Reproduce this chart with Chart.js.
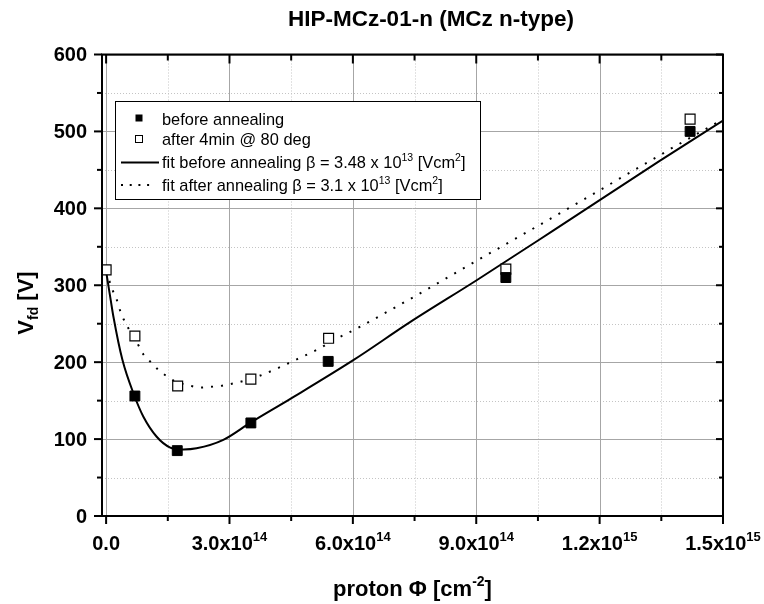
<!DOCTYPE html>
<html><head><meta charset="utf-8">
<script src="https://cdn.jsdelivr.net/npm/chart.js@4.4.0/dist/chart.umd.min.js"></script>
<style>html,body{margin:0;padding:0;background:#fff}canvas{display:block}</style>
</head><body>
<canvas id="c" width="764" height="604"></canvas>
<script>
// ---------- data ----------
const titleText = "HIP-MCz-01-n (MCz n-type)";
const phiBefore = [7e13, 1.73e14, 3.52e14, 5.40e14, 9.72e14, 1.42e15];
const vBefore   = [156, 85, 121, 201, 310, 500];
const phiAfter  = [0, 7e13, 1.74e14, 3.52e14, 5.41e14, 9.72e14, 1.42e15];
const vAfter    = [320, 234, 169, 178, 231, 321, 516];
const phiFitBefore = [0, 1.14e13, 1.78e13, 3.96e13, 6.9e13, 9.07e13, 1.23e14, 1.56e14, 1.88e14, 2.2e14, 2.85e14, 3.52e14, 4.47e14, 6.01e14, 7.39e14, 9.01e14, 1.087e15, 1.347e15, 1.5e15];
const vFitBefore   = [318, 280, 259, 203, 156, 129, 103, 89, 86.5, 88, 99, 121.7, 152, 202.6, 252, 306.5, 371, 462, 514];
const phiFitAfter = [0, 5.7e12, 1.6e13, 2.6e13, 3.6e13, 7.86e13, 9.07e13, 1.05e14, 1.25e14, 1.44e14, 1.64e14, 2.07e14, 2.31e14, 2.55e14, 2.77e14, 3.01e14, 3.26e14, 3.72e14, 4.19e14, 4.66e14, 5.14e14, 5.61e14, 6.08e14, 6.55e14, 7.02e14, 7.71e14, 8.66e14, 9.6e14, 1.031e15, 1.336e15, 1.383e15, 1.452e15, 1.5e15];
const vFitAfter   = [318, 309, 293.5, 281, 264, 222, 210, 202, 191, 183, 176, 169, 167, 168, 169, 171.4, 174.4, 182, 192.6, 204.3, 216.5, 230.8, 243.3, 257, 271, 291.8, 321.2, 349.8, 371.4, 465.8, 480.5, 501.3, 516];
const xTickValues = [0, 3e14, 6e14, 9e14, 1.2e15, 1.5e15];
const xTickBases  = ["0.0", "3.0x10", "6.0x10", "9.0x10", "1.2x10", "1.5x10"];
const xTickExps   = ["", "14", "14", "14", "15", "15"];
const xMinorValues = [1.5e14, 4.5e14, 7.5e14, 1.05e15, 1.35e15];
const yTickValues = [0, 100, 200, 300, 400, 500, 600];
const yTickLabels = ["0", "100", "200", "300", "400", "500", "600"];
const yMinorValues = [50, 150, 250, 350, 450, 550];
const legendLabels = [
  [["before annealing", 0]],
  [["after 4min @ 80 deg", 0]],
  [["fit before annealing \u03B2 = 3.48 x 10", 0], ["13", 1], [" [Vcm", 0], ["2", 1], ["]", 0]],
  [["fit after annealing \u03B2 = 3.1 x 10", 0], ["13", 1], [" [Vcm", 0], ["2", 1], ["]", 0]]
];
const xTitle = [["proton \u03A6 [cm", 0], ["-2", 1], ["]", 0]];
const yTitle = [["V", 0], ["fd", -1], [" [V]", 0]];

// ---------- helpers ----------
const FAM = '"Liberation Sans", Arial, Helvetica, sans-serif';
function drawRich(ctx, parts, x, y, align) {
  let w = 0;
  for (const p of parts) { ctx.font = p.f; w += ctx.measureText(p.t).width; }
  let cx = align === 'center' ? x - w / 2 : align === 'right' ? x - w : x;
  ctx.textAlign = 'left'; ctx.textBaseline = 'alphabetic';
  for (const p of parts) { ctx.font = p.f; ctx.fillText(p.t, cx, y + (p.dy || 0)); cx += ctx.measureText(p.t).width; }
  return w;
}
function line(ctx, x1, y1, x2, y2) { ctx.beginPath(); ctx.moveTo(x1, y1); ctx.lineTo(x2, y2); ctx.stroke(); }

const decor = {
  id: 'decor',
  beforeDatasetsDraw(chart) {
    const { ctx, chartArea: a, scales: { x, y } } = chart;
    ctx.save();
    ctx.lineWidth = 1;
    ctx.strokeStyle = '#c4c4c4'; ctx.setLineDash([1, 2]);
    for (const v of xMinorValues) { const p = Math.round(x.getPixelForValue(v)) + 0.5; line(ctx, p, a.top, p, a.bottom); }
    for (const v of yMinorValues) { const p = Math.round(y.getPixelForValue(v)) + 0.5; line(ctx, a.left, p, a.right, p); }
    ctx.setLineDash([]); ctx.strokeStyle = '#a6a6a6';
    for (const v of xTickValues) { const p = Math.round(x.getPixelForValue(v)) + 0.5; line(ctx, p, a.top, p, a.bottom); }
    for (const v of yTickValues) { const p = Math.round(y.getPixelForValue(v)) + 0.5; line(ctx, a.left, p, a.right, p); }
    ctx.restore();
  },
  afterDatasetsDraw(chart) {
    const { ctx, chartArea: a, scales: { x, y } } = chart;
    ctx.save();
    // frame
    ctx.strokeStyle = '#000'; ctx.lineWidth = 2;
    ctx.strokeRect(a.left, a.top, a.right - a.left, a.bottom - a.top);
    // ticks
    ctx.lineWidth = 2;
    for (const v of xTickValues) { const p = x.getPixelForValue(v); line(ctx, p, a.bottom, p, a.bottom + 8); line(ctx, p, a.top, p, a.top + 9); }
    for (const v of xMinorValues) { const p = x.getPixelForValue(v); line(ctx, p, a.bottom, p, a.bottom + 5); line(ctx, p, a.top, p, a.top + 6); }
    for (const v of yTickValues) { const p = y.getPixelForValue(v); line(ctx, a.left - 8, p, a.left, p); line(ctx, a.right - 7, p, a.right, p); }
    for (const v of yMinorValues) { const p = y.getPixelForValue(v); line(ctx, a.left - 5, p, a.left, p); line(ctx, a.right - 4, p, a.right, p); }
    ctx.fillStyle = '#000';
    // y tick labels
    ctx.font = 'bold 20px ' + FAM; ctx.textAlign = 'right'; ctx.textBaseline = 'middle';
    yTickValues.forEach((v, i) => ctx.fillText(yTickLabels[i], a.left - 15, y.getPixelForValue(v) + 1));
    // x tick labels
    xTickValues.forEach((v, i) => {
      const parts = [{ t: xTickBases[i], f: 'bold 20px ' + FAM }];
      if (xTickExps[i]) parts.push({ t: xTickExps[i], f: 'bold 13px ' + FAM, dy: -9 });
      drawRich(ctx, parts, x.getPixelForValue(v), 550, 'center');
    });
    // x title
    drawRich(ctx, xTitle.map(([t, s]) => s ? { t, f: 'bold 14px ' + FAM, dy: -10 } : { t, f: 'bold 22px ' + FAM }), (a.left + a.right) / 2, 596, 'center');
    // y title
    ctx.save(); ctx.translate(33, 303); ctx.rotate(-Math.PI / 2);
    drawRich(ctx, yTitle.map(([t, s]) => s ? { t, f: 'bold 14px ' + FAM, dy: 5 } : { t, f: 'bold 22px ' + FAM }), 0, 0, 'center');
    ctx.restore();
    // title
    drawRich(ctx, [{ t: titleText, f: 'bold 22.5px ' + FAM }], 431, 26, 'center');
    // legend
    const L = { l: 115, t: 101, r: 480, b: 199 };
    ctx.fillStyle = '#fff'; ctx.fillRect(L.l, L.t, L.r - L.l, L.b - L.t);
    ctx.strokeStyle = '#000'; ctx.lineWidth = 1; ctx.strokeRect(L.l + 0.5, L.t + 0.5, L.r - L.l, L.b - L.t);
    ctx.fillStyle = '#000';
    ctx.fillRect(135.5, 114.5, 7, 7);
    ctx.fillStyle = '#fff'; ctx.fillRect(136, 135.5, 6, 6);
    ctx.strokeRect(135.5, 135.5, 7, 7);
    ctx.lineWidth = 2; line(ctx, 121, 162.5, 159, 162.5);
    ctx.fillStyle = '#000';
    for (let k = 0; k < 4; k++) ctx.fillRect(121 + k * 8.7, 184, 2, 2);
    const baselines = [125, 144.5, 168, 191];
    legendLabels.forEach((row, i) => {
      drawRich(ctx, row.map(([t, s]) => s ? { t, f: '10.5px ' + FAM, dy: -7 } : { t, f: '16.4px ' + FAM }), 162, baselines[i], 'left');
    });
    ctx.restore();
  }
};

new Chart(document.getElementById('c'), {
  type: 'scatter',
  data: {
    datasets: [
      { label: 'before annealing', data: phiBefore.map((p, i) => ({ x: p, y: vBefore[i] })), pointStyle: 'rect', pointRadius: 7, backgroundColor: '#000', borderColor: '#000', borderWidth: 1 },
      { label: 'after 4min @ 80 deg', data: phiAfter.map((p, i) => ({ x: p, y: vAfter[i] })), pointStyle: 'rect', pointRadius: 7, backgroundColor: '#fff', borderColor: '#000', borderWidth: 1.2 },
      { label: 'fit before', data: phiFitBefore.map((p, i) => ({ x: p, y: vFitBefore[i] })), showLine: true, pointRadius: 0, borderColor: '#000', borderWidth: 2, cubicInterpolationMode: 'monotone' },
      { label: 'fit after', data: phiFitAfter.map((p, i) => ({ x: p, y: vFitAfter[i] })), showLine: true, pointRadius: 0, borderColor: '#000', borderWidth: 2, borderDash: [2, 8], cubicInterpolationMode: 'monotone' }
    ]
  },
  options: {
    responsive: false, animation: false, devicePixelRatio: 1,
    layout: { padding: { left: 102, top: 54.5, right: 41, bottom: 88 } },
    scales: {
      x: { type: 'linear', min: -1e13, max: 1.5e15, display: false },
      y: { type: 'linear', min: 0, max: 600, display: false }
    },
    plugins: { legend: { display: false }, tooltip: { enabled: false }, title: { display: false } }
  },
  plugins: [decor]
});
</script>
</body></html>
